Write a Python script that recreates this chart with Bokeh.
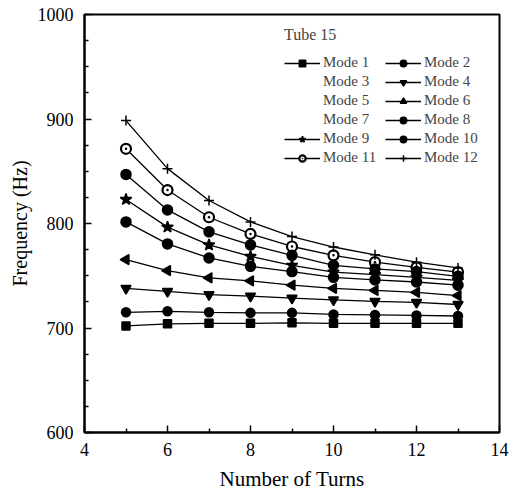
import numpy as np
from bokeh.plotting import figure
from bokeh.models import Legend, LegendItem, ColumnDataSource, FixedTicker, Range1d
from bokeh.embed import file_html
from bokeh.resources import INLINE

turns = [5, 6, 7, 8, 9, 10, 11, 12, 13]
mode_1 = [702, 704, 704.5, 704.5, 705, 704.5, 704.5, 704.5, 704.5]
mode_2 = [715, 716, 715, 714.5, 714.5, 713, 712.5, 712, 711.5]
mode_4 = [738, 735, 732, 730.5, 728.5, 727, 725.5, 724.5, 722.5]
mode_6 = [765.5, 755, 748, 745, 741, 738, 736, 734, 731]
mode_8 = [801.5, 780.5, 767, 759, 754, 748.5, 746, 744, 741]
mode_9 = [823, 796.5, 779.5, 768.5, 760, 753.5, 751, 748.5, 745.5]
mode_10 = [847, 813, 792, 779.5, 769.5, 760, 756.5, 754, 749.5]
mode_11 = [871.5, 832, 806, 790, 778, 769.5, 763, 758, 753.5]
mode_12 = [898.5, 852.5, 822, 801.5, 787.5, 777.5, 770, 763, 757.5]

# legend order: left column then right column
legend_order = ["Mode 1", "Mode 3", "Mode 5", "Mode 7", "Mode 9", "Mode 11",
                "Mode 2", "Mode 4", "Mode 6", "Mode 8", "Mode 10", "Mode 12"]
x_ticks = [4, 6, 8, 10, 12, 14]
x_minor_ticks = [5, 7, 9, 11, 13]
y_ticks = [600, 700, 800, 900, 1000]
y_minor_ticks = [625, 650, 675, 725, 750, 775, 825, 850, 875, 925, 950, 975]

series = {
    "Mode 1": mode_1, "Mode 2": mode_2, "Mode 4": mode_4, "Mode 6": mode_6,
    "Mode 8": mode_8, "Mode 9": mode_9, "Mode 10": mode_10,
    "Mode 11": mode_11, "Mode 12": mode_12,
}
# marker, size, angle, fill, outline width
markers = {
    "Mode 1": ("square", 8, 0, "black", 1.5),
    "Mode 2": ("circle", 9, 0, "black", 1.5),
    "Mode 4": ("inverted_triangle", 10, 0, "black", 1.5),
    "Mode 6": ("triangle", 10, np.pi / 2, "black", 1.5),
    "Mode 8": ("circle", 10, 0, "black", 1.5),
    "Mode 9": ("star", 12, 0, "black", 1.5),
    "Mode 10": ("circle", 10, 0, "black", 1.5),
    "Mode 11": ("circle_dot", 10, 0, "white", 2.2),
    "Mode 12": ("cross", 10, 0, "black", 1.5),
}

FONT = "Liberation Serif"

p = figure(width=509, height=497, output_backend="svg", toolbar_location=None,
           x_range=Range1d(4, 14), y_range=Range1d(600, 1000),
           min_border_left=84, min_border_right=10, min_border_top=14,
           min_border_bottom=65)
p.xgrid.visible = False
p.ygrid.visible = False
p.outline_line_color = "black"
p.outline_line_width = 2
p.background_fill_color = "white"
p.border_fill_color = "white"

p.xaxis.ticker = FixedTicker(ticks=x_ticks, minor_ticks=x_minor_ticks)
p.yaxis.ticker = FixedTicker(ticks=y_ticks, minor_ticks=y_minor_ticks)
p.xaxis.axis_label = "Number of Turns"
p.yaxis.axis_label = "Frequency (Hz)"
for ax in (p.xaxis[0], p.yaxis[0]):
    ax.major_tick_in = 7
    ax.major_tick_out = 0
    ax.minor_tick_in = 4
    ax.minor_tick_out = 0
    ax.axis_line_width = 2
    ax.axis_line_color = "black"
    ax.major_tick_line_width = 1.5
    ax.minor_tick_line_width = 1.5
    ax.major_tick_line_color = "black"
    ax.minor_tick_line_color = "black"
    ax.major_label_text_font = FONT
    ax.major_label_text_font_size = "18px"
    ax.major_label_text_color = "black"
    ax.axis_label_text_font = FONT
    ax.axis_label_text_font_style = "normal"
    ax.axis_label_text_color = "black"
p.xaxis.axis_label_text_font_size = "21px"
p.yaxis.axis_label_text_font_size = "20px"
p.xaxis.major_label_standoff = 10
p.xaxis.axis_label_standoff = 8
p.yaxis.major_label_standoff = 11
p.yaxis.axis_label_standoff = 4

renderers = {}
for lab in legend_order:
    if lab in series:
        src = ColumnDataSource(dict(x=turns, y=series[lab]))
        mk, sz, ang, fill, lw = markers[lab]
        r1 = p.line("x", "y", source=src, line_color="black", line_width=1.3)
        r2 = p.scatter("x", "y", source=src, marker=mk, size=sz, angle=ang,
                       fill_color=fill, line_color="black", line_width=lw)
        renderers[lab] = [r1, r2]
    else:
        src = ColumnDataSource(dict(x=[], y=[]))
        r1 = p.line("x", "y", source=src, line_alpha=0)
        renderers[lab] = [r1]

items = [LegendItem(label=lab, renderers=renderers[lab]) for lab in legend_order]

legend = Legend(items=items, ncols=2, location=(200, 266), title="Tube 15",
                border_line_alpha=0, background_fill_alpha=0, padding=0, margin=0,
                glyph_width=36, glyph_height=16, label_height=16, label_width=60,
                label_standoff=3, spacing=2,
                label_text_font=FONT, label_text_font_size="15px",
                title_text_font=FONT, title_text_font_size="16px",
                title_text_font_style="normal", title_standoff=10)
p.add_layout(legend)

open("out.html", "w").write(file_html(p, INLINE))
